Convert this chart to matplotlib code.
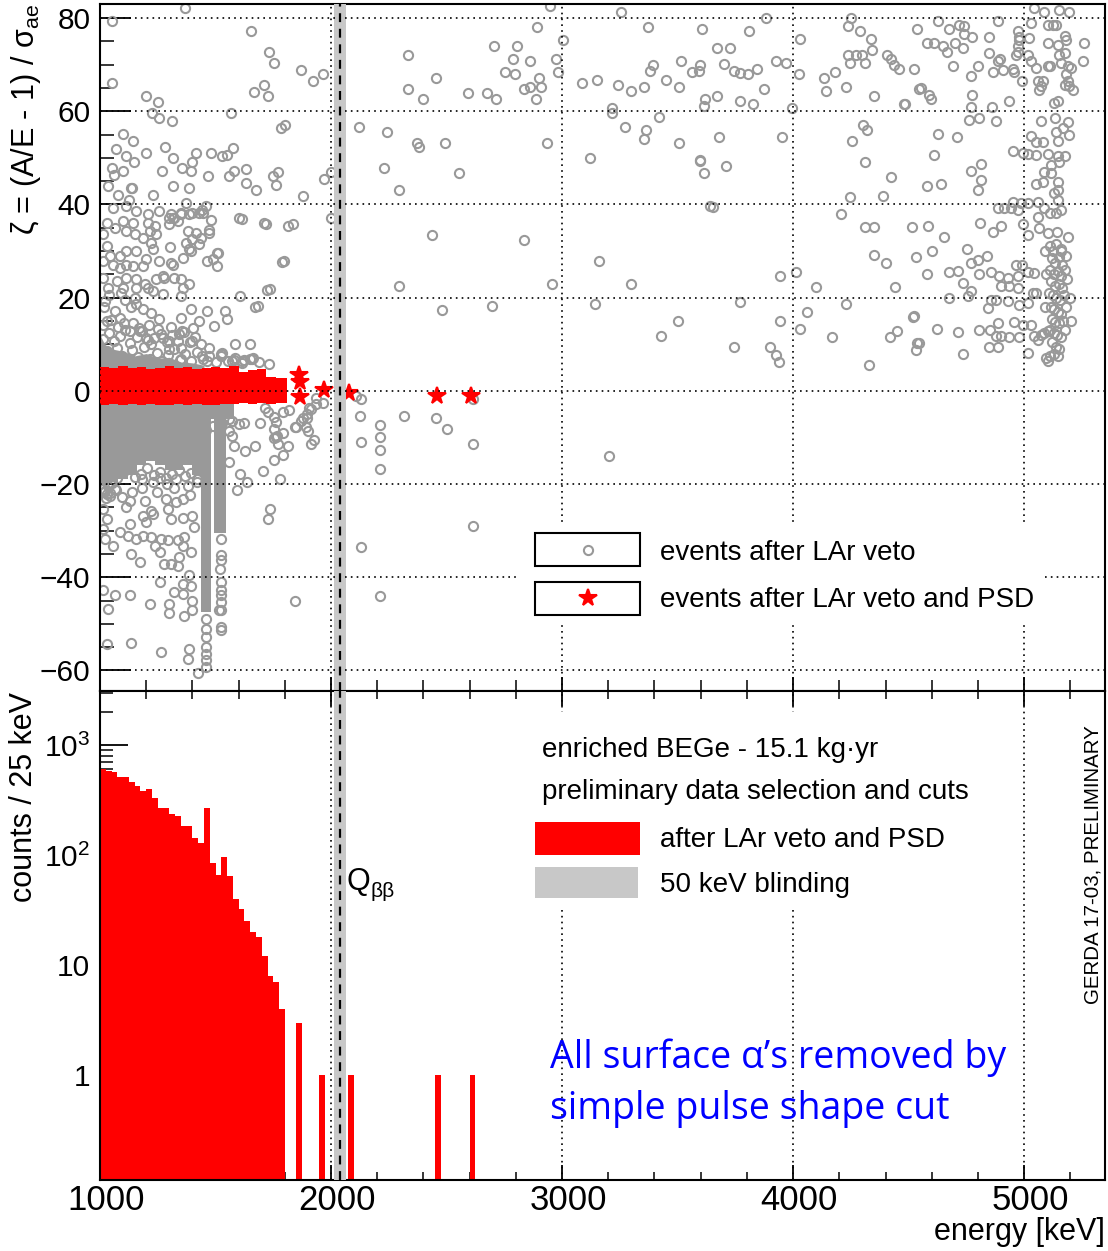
import numpy as np
import matplotlib
matplotlib.use("Agg")
import matplotlib.pyplot as plt
import matplotlib.transforms as mtransforms
from matplotlib.ticker import MultipleLocator, FixedLocator, FixedFormatter, LogLocator, NullFormatter
from matplotlib.patches import Rectangle

plt.rcParams['font.family'] = ['Liberation Sans', 'DejaVu Sans']
plt.rcParams['mathtext.fontset'] = 'custom'
plt.rcParams['mathtext.rm'] = 'Liberation Sans'
plt.rcParams['mathtext.it'] = 'Liberation Sans:italic'

# ---------------- data ----------------
# histogram: counts per 25 keV bin, starting at 1000 keV
hist_start = 1000
hist_width = 25
hist_counts = [600, 580, 570, 515, 515, 464, 424, 384, 396, 328, 266, 266, 236, 226, 185, 185,
               142, 129, 266, 85, 66, 95, 64, 40, 32, 25, 20, 18, 12, 8, 7, 4,
               0, 0, 3, 0, 0, 0, 1, 0, 0, 0, 0, 1, 0, 0, 0, 0, 0, 0, 0, 0, 0, 0, 0, 0, 0, 0,
               1, 0, 0, 0, 0, 0, 1]

# red events after LAr veto and PSD: dense band (envelope) + isolated events
band_e = [1000, 1040, 1080, 1120, 1160, 1200, 1240, 1280, 1320, 1360, 1400, 1440, 1480,
          1520, 1560, 1600, 1640, 1680, 1720, 1760, 1808]
band_top = [5.2, 4.8, 5.3, 4.9, 5.2, 4.7, 5.0, 5.3, 4.8, 5.1, 4.6, 4.9, 5.2, 4.8, 5.3,
            4.1, 4.5, 4.7, 3.0, 2.8, 2.8]
band_bot = [-3.0, -2.8, -3.1, -2.9, -3.0, -2.8, -3.0, -3.1, -2.9, -3.0, -2.8, -3.0, -3.1,
            -2.9, -2.8, -2.7, -2.9, -2.6, -2.8, -2.6, -2.6]
red_e = [1862, 1866, 1865, 1969, 2077, 2460, 2605]
red_z = [3.3, 1.9, -1.4, 0.2, -0.5, -1.1, -1.1]

# dense core of grey events (envelopes)
core_e = [1000, 1040, 1080, 1120, 1160, 1200, 1240, 1280, 1320, 1360, 1400, 1436, 1479,
          1493, 1545, 1580]
core_lo = [-20, -19.5, -19, -18, -16, -15, -16, -17, -17, -16, -18, -47.5, -6, -30.5, -6, -6]
up_e = [1000, 1020, 1050, 1100, 1150, 1200, 1250, 1300, 1350, 1400, 1450]
up_hi = [12, 10, 9, 8.5, 7.5, 8, 7, 7.2, 6.2, 6, 5.5]

# grey events after LAr veto (energy keV, zeta)
gray_e = [
 2948, 3256, 2893, 3370, 3606, 3006, 2705, 2803, 2333, 2786, 2861, 2974, 3515, 3393, 3379,
 3599, 3562, 3591, 2753, 2796, 2981, 2453, 2902, 3088, 3150, 3240, 3298, 3353, 3451, 3508,
 2333, 2398, 2594, 2673, 2714, 2835, 2861, 2909, 2886, 3620, 3613, 3215, 3215, 3421, 2121,
 2244, 2372, 2381, 2495, 2934, 3273, 3363, 3353, 3508, 3119, 3596, 3613, 2228, 2553, 2293,
 2439, 2837, 3161, 2293, 2958, 3298, 2479, 2698, 3143, 3500, 3428, 3642,
 2109, 2131, 2124, 2316, 2453, 2503, 2615, 2615, 2211, 2211, 2211, 2211, 2131, 3201, 2615,
 2131, 2211,
 3883, 3808, 3671, 3729, 3702, 3743, 3772, 3804, 3844, 3924, 3971, 3873, 3671, 3769, 3825,
 3996, 4029, 4025, 4249, 4238, 4290, 4336, 4343, 4238, 4271, 4300, 4246, 4310, 4408, 4423,
 4437, 4459, 4524, 4535, 4133, 4181, 4141, 4230, 4350, 4480, 4545, 4304, 4319, 4253, 4310,
 4423, 4391, 4246, 4206, 4310, 4350, 4514, 4350, 4401, 4531, 4440, 3678, 3953, 3598, 3711,
 3653, 4011, 3945, 4100, 3768, 3945, 4061, 4029, 4230, 4167, 3743, 3899, 3924, 3938, 4329,
 4521, 4418, 4451, 4538, 4531,
 5042, 5085, 5153, 5196, 5030, 4625, 4676, 4719, 4741, 4741, 4773, 4849, 4885, 4972, 4979,
 4979, 5023, 5102, 5124, 5138, 5102, 5146, 5182, 5175, 5258, 5254, 4579, 4611, 4647, 4668,
 4700, 4734, 4849, 4897, 4885, 4972, 4972, 4965, 5015, 5030, 5052, 5102, 5114, 5160, 5153,
 5175, 5189, 5203, 5182, 5189, 5196, 5211, 5175, 5059, 5073, 5081, 5066, 4989, 4958, 4950,
 4690, 4770, 4799, 4864, 4907, 4553, 4589, 4596, 4773, 4483, 4770, 4859, 4936, 5131, 5146,
 4762, 4806, 4878, 5073, 5134, 5189, 4625, 4709, 5030, 5052, 5081, 5146, 5196, 5138, 5167,
 4611, 4950, 4994, 5015, 5052, 5102, 5146, 5175, 5153, 5117, 4770, 4813, 4813, 4799, 4579,
 4642, 5088, 5117, 5081, 5052, 5146, 5146, 5131, 4885, 4914, 4943, 4972, 4950, 4986, 5015,
 5059, 5088, 5114, 5138, 5160, 5146, 5059, 4585, 4651, 4810, 4864, 4900, 4994, 5015, 5066,
 5102, 5143, 5189, 4603, 4752, 4770, 4799, 4839, 4676, 4715, 4579, 4734, 4770, 4806, 4856,
 4893, 4932, 4975, 4965, 4989, 5015, 5044, 4900, 4936, 4972, 5037, 5052, 4676, 4755, 4842,
 4929, 4979, 5015, 4878, 4856, 4524, 4622, 4715, 4806, 4853, 4885, 4849, 4885, 4878, 4900,
 4936, 4979, 4958, 4994, 5030, 4546, 4734, 5015, 5044, 5059, 5073, 5088, 5102, 5095, 5102,
 5110,
 5110, 5125, 5140, 5160, 5120, 5135, 5150, 5165, 5112, 5128, 5145, 5160, 5175, 5118, 5133,
 5150, 5165, 5108, 5125, 5140, 5155, 5172, 5115, 5130, 5145, 5160, 5120, 5135, 5150, 5168,
 5112, 5128, 5142, 5158, 5122, 5138, 5152, 5130, 5145, 5160, 5180, 5185, 5180, 5175, 5095,
 5092, 5090, 5200, 5203,
 1367, 1053, 1053, 1654, 1733, 1755, 1870, 1921, 1967, 1668, 1711, 1726, 1198, 1249, 1227,
 1256, 1311, 1567, 1784, 1802, 1100, 1143, 1068, 1198, 1280, 1314, 1354, 1400, 1415, 1480,
 1528, 1548, 1574, 1147, 1053, 1060, 1100, 1270, 1393, 1466, 1560, 1581, 1632, 1632, 1675,
 1748, 1770, 1762, 1971, 2000, 2000, 1878, 1834, 1798, 1736, 1682, 1603, 1711, 1487, 1512,
 1473, 1480, 1444, 1400, 1372, 1350, 1314, 1415, 1430, 1111, 1140, 1126,
 1036, 1079, 1136, 1229, 1315, 1386, 1057, 1114, 1157, 1207, 1257, 1307, 1322, 1350, 1386,
 1429, 1443, 1458, 1100, 1143, 1207, 1236, 1029, 1064, 1114, 1150, 1215, 1243, 1186, 1222,
 1300, 1300, 1336, 1379, 1372, 1400, 1393, 1436, 1472, 1615, 1718, 1815, 1303, 1358, 1386,
 1465, 1508, 1508, 1787, 1014, 1029, 1043, 1014, 1057, 1086, 1114, 1143, 1186, 1200, 1157,
 1114, 1086, 1229, 1257, 1279, 1307, 1315, 1322, 1350, 1386, 1358, 1272, 1243, 1114, 1157,
 1193, 1207, 1229, 1157, 1100, 1072, 1036, 1014, 1272, 1350, 1722, 1608, 1672, 1021, 1064,
 1086, 1029, 1136, 1157, 1186, 1222, 1257, 1143, 1129, 1172, 1200, 1222, 1272, 1300, 1350,
 1393, 1429, 1465, 1493, 1543, 1550, 1343, 1350, 1400, 1436, 1472, 1465, 1443, 1522, 1586,
 1650, 1572, 1615, 1658, 1350, 1300,
 1622, 1694, 1715, 1729, 1751, 1794, 1755, 1765, 1755, 1772, 1794, 1755, 1672, 1627, 1579,
 1558, 1558, 1558, 1572, 1704, 1608, 1636, 1594, 1779, 1737, 1729, 1844, 1872, 1898, 1901,
 1915, 1937, 1915, 1898, 1844,
 1014, 1029, 1140, 1129, 1114, 1193, 1222, 1186, 1200, 1229, 1286, 1329, 1358, 1293, 1307,
 1358, 1408, 1400, 1129, 1086, 1122, 1157, 1186, 1222, 1265, 1236, 1258, 1293, 1336, 1365,
 1358, 1393, 1136, 1172, 1279, 1307, 1336, 1343, 1057, 1021, 1029, 1014, 1014,
 1258, 1322, 1358, 1386, 1393, 1358, 1129, 1064, 1014, 1215, 1297, 1297, 1400, 1365, 1400,
 1036, 1136, 1265, 1386, 1379, 1029, 1426,
 1458, 1458, 1458, 1458, 1458, 1458, 1458,
 1522, 1522, 1522, 1518, 1522, 1522, 1522, 1522, 1516, 1524, 1522, 1522,
 1530, 1581, 1624, 1661, 1820, 1877, 1906, 1935, 1964, 1762, 1762, 1791, 1849, 1892, 1928,
 1812,
 1020, 1035, 1050, 1025, 1045, 1065, 1018, 1040, 1090, 1110, 1150, 1180, 1230, 1260, 1290,
 1330, 1380, 1420, 1460, 1490, 1530, 1570, 1600,
 1010, 1030, 1055, 1075, 1095, 1120, 1140, 1165, 1190, 1215, 1245, 1270, 1295, 1320, 1345,
 1370, 1395, 1420, 1445, 1470, 1500, 1525, 1555, 1585, 1615, 1650, 1690, 1730,
 1012, 1038, 1062, 1085, 1108, 1132, 1158, 1183, 1208, 1235, 1262, 1288, 1312, 1338, 1362,
 1388, 1412, 1015, 1048, 1078, 1105, 1168, 1212, 1250, 1308, 1355, 1402,
 1022, 1048, 1075, 1103, 1128, 1152, 1178, 1205, 1232, 1258, 1285, 1312, 1340, 1368, 1395,
 1422, 1016, 1042, 1068, 1095, 1180, 1248, 1320, 1390,
]
gray_z = [
 82.5, 81.2, 78.0, 78.0, 77.6, 75.2, 73.9, 74.0, 72.0, 71.2, 70.8, 71.2, 70.8, 70.0, 68.7,
 70.0, 68.4, 68.7, 68.4, 68.0, 68.4, 67.2, 67.2, 66.0, 66.7, 65.6, 64.4, 65.2, 66.7, 65.2,
 64.7, 62.7, 63.9, 63.9, 62.7, 64.7, 65.2, 65.2, 62.7, 62.7, 61.2, 60.7, 59.6, 58.7, 56.7,
 55.5, 53.1, 52.3, 53.1, 53.1, 56.7, 56.0, 54.0, 53.1, 49.9, 49.6, 46.7, 47.9, 46.7, 43.1,
 33.5, 32.3, 27.9, 22.6, 23.0, 23.0, 17.4, 18.3, 18.6, 15.0, 11.8, 39.6,
 -1.2, -1.8, -5.4, -5.4, -5.9, -8.2, -1.8, -11.4, -7.4, -10.0, -12.7, -16.7, -11.0, -14.0, -29.1,
 -33.5, -44.0,
 80.1, 77.1, 73.5, 73.5, 70.1, 68.7, 68.3, 68.0, 69.1, 70.8, 70.3, 64.7, 63.2, 62.1, 61.5,
 60.7, 75.5, 68.0, 80.1, 78.3, 77.1, 75.5, 73.2, 72.0, 72.0, 72.0, 70.3, 70.3, 72.0, 71.2,
 70.0, 69.1, 69.1, 77.6, 67.1, 68.4, 64.4, 65.1, 63.2, 61.5, 64.7, 57.1, 56.0, 53.5, 49.1,
 45.9, 41.9, 41.5, 37.9, 35.1, 35.1, 35.1, 29.1, 27.4, 28.7, 22.3, 54.4, 54.4, 49.4, 48.3,
 39.4, 25.5, 24.7, 22.3, 19.1, 15.0, 17.0, 13.3, 18.6, 11.5, 9.4, 9.4, 7.7, 6.2, 5.5,
 15.8, 11.5, 12.8, 10.3, 8.7,
 82.1, 81.2, 81.8, 81.2, 79.0, 79.3, 77.6, 78.4, 78.2, 76.6, 76.0, 76.0, 79.3, 77.1, 76.0,
 75.3, 75.7, 78.5, 78.5, 78.5, 74.6, 74.2, 75.3, 76.1, 74.7, 70.8, 74.6, 74.7, 73.9, 72.8,
 74.6, 73.5, 72.5, 71.2, 70.7, 73.9, 72.8, 72.1, 72.1, 70.7, 69.2, 69.8, 69.8, 70.3, 72.1,
 72.5, 69.6, 69.2, 68.0, 66.4, 65.3, 64.6, 65.7, 66.4, 65.3, 66.4, 64.6, 66.4, 68.5, 69.0,
 69.6, 67.5, 69.6, 68.5, 68.9, 64.9, 63.5, 62.6, 63.5, 61.6, 60.9, 60.9, 62.1, 61.7, 62.1,
 58.2, 58.5, 58.0, 58.0, 58.5, 57.6, 55.1, 54.4, 54.6, 53.3, 53.3, 53.5, 54.9, 55.6, 56.4,
 50.7, 51.5, 51.0, 50.9, 50.7, 50.9, 50.3, 50.4, 49.0, 48.5, 47.1, 48.7, 45.2, 43.0, 43.9,
 44.4, 46.9, 46.7, 44.9, 44.4, 44.9, 43.1, 42.4, 39.2, 39.2, 39.2, 38.9, 40.6, 40.3, 40.3,
 40.6, 39.2, 38.1, 38.1, 38.9, 41.0, 37.4, 35.4, 33.0, 36.0, 34.1, 35.4, 35.8, 33.5, 34.9,
 33.8, 34.1, 33.1, 29.9, 30.4, 27.4, 28.0, 29.0, 25.4, 25.8, 25.1, 23.1, 21.5, 25.1, 25.4,
 24.7, 24.2, 24.7, 27.0, 27.0, 25.6, 25.3, 22.6, 22.4, 22.0, 21.1, 21.0, 19.9, 20.3, 17.8,
 19.2, 18.5, 18.8, 19.5, 19.5, 16.0, 13.3, 12.6, 13.1, 13.1, 14.5, 9.5, 9.5, 11.7, 11.7,
 11.5, 11.5, 14.7, 14.2, 14.2, 10.3, 7.8, 8.1, 11.7, 11.0, 12.0, 12.4, 12.8, 7.1, 6.3,
 7.5,
 31.0, 30.0, 31.5, 30.5, 28.5, 27.5, 28.8, 27.0, 26.0, 25.0, 25.8, 24.6, 26.0, 23.5, 22.5,
 23.0, 22.0, 21.0, 20.5, 20.0, 19.5, 20.5, 18.0, 17.5, 17.0, 16.5, 15.5, 14.8, 14.5, 15.0,
 13.0, 12.5, 12.0, 11.5, 10.5, 9.5, 9.0, 8.0, 7.5, 30.0, 29.0, 24.0, 18.0, 13.0, 25.0,
 18.0, 30.0, 20.0, 15.0,
 82.1, 79.3, 66.0, 77.1, 72.8, 70.3, 68.9, 66.4, 68.0, 64.2, 65.7, 63.2, 63.2, 62.0, 59.6,
 58.5, 58.0, 59.6, 56.4, 57.1, 55.2, 53.5, 51.9, 51.0, 52.3, 49.9, 47.9, 49.0, 51.0, 51.0,
 50.3, 50.5, 52.1, 49.1, 47.9, 46.4, 47.1, 47.1, 47.1, 46.2, 46.2, 47.1, 47.5, 44.7, 43.0,
 46.0, 47.0, 44.2, 45.4, 46.9, 37.1, 41.9, 35.9, 27.8, 21.8, 18.1, 37.1, 36.1, 28.3, 29.6,
 34.6, 36.7, 38.1, 38.1, 40.3, 38.1, 37.0, 33.9, 31.4, 50.3, 43.5, 41.0,
 43.9, 42.1, 43.6, 42.1, 43.9, 43.6, 39.3, 39.6, 38.6, 37.9, 38.6, 37.9, 37.1, 37.9, 37.9,
 38.2, 38.9, 39.6, 36.4, 36.1, 36.1, 35.4, 36.1, 35.0, 34.3, 33.6, 34.3, 33.6, 32.9, 31.8,
 37.1, 35.7, 36.4, 34.3, 31.8, 32.5, 30.0, 32.9, 33.9, 36.8, 35.9, 35.4, 30.9, 28.6, 30.4,
 27.9, 29.6, 26.8, 27.6, 33.6, 31.1, 28.9, 27.9, 27.1, 26.4, 27.1, 26.8, 26.8, 28.2, 30.0,
 30.0, 28.9, 30.4, 27.9, 24.3, 27.5, 27.1, 24.3, 23.9, 22.9, 22.1, 24.6, 23.9, 24.3, 23.9,
 22.9, 22.1, 21.4, 22.1, 22.1, 23.6, 22.1, 24.3, 20.7, 20.4, 21.6, 20.4, 17.9, 19.3, 17.1,
 15.7, 15.0, 17.9, 18.6, 17.5, 16.8, 15.4, 14.6, 12.9, 12.9, 11.4, 10.0, 11.4, 10.7, 15.7,
 17.5, 15.0, 17.1, 13.9, 17.1, 15.4, 12.1, 9.3, 10.7, 10.0, 9.3, 6.4, 7.5, 7.5, 10.0,
 10.0, 6.4, 6.4, 6.8, 6.8, 9.0,
 -6.8, -6.9, -3.6, -4.5, -5.7, -4.5, -8.2, -9.6, -10.2, -11.4, -13.8, -14.8, -11.9, -12.8, -11.8,
 -8.6, -6.1, -15.3, -9.6, -17.1, -17.8, -19.6, -21.2, -18.9, -25.3, -27.5, -7.8, -6.4, -5.9, -8.6,
 -11.3, -2.9, -3.9, -5.0, -45.0,
 -21.0, -22.1, -21.8, -23.6, -25.0, -23.6, -25.7, -26.8, -28.2, -26.4, -23.2, -23.9, -23.2, -25.3, -27.5,
 -27.3, -29.3, -26.8, -28.6, -30.3, -31.1, -31.8, -31.1, -31.4, -31.8, -33.2, -34.6, -32.1, -32.1, -31.4,
 -33.2, -34.5, -35.0, -36.8, -37.1, -37.1, -37.5, -35.7, -33.2, -31.8, -27.5, -25.3, -29.6,
 -41.1, -43.2, -41.4, -39.6, -41.8, -43.6, -43.9, -43.9, -42.8, -45.7, -45.7, -47.7, -45.0, -48.4, -47.1,
 -46.8, -54.1, -56.0, -55.3, -57.6, -54.4, -60.5,
 -48.9, -51.0, -52.8, -55.0, -56.4, -57.8, -59.3,
 -31.8, -35.3, -36.4, -38.2, -41.1, -42.8, -43.9, -45.3, -47.1, -47.1, -50.7, -51.4,
 8.1, 6.6, 6.6, 7.0, -4.1, -5.9, -3.7, -1.6, -2.6, -6.6, -9.8, -9.1, -7.7, -7.7, -10.5,
 -11.9,
 -21.5, -20.5, -19.8, -23.0, -22.0, -21.0, 18.0, 20.5, 21.0, 19.5, 20.0, -19.0, -19.5, -18.8, -20.0,
 -19.0, -20.5, -19.6, -8.5, -7.5, -6.8, -6.5, -7.2,
 7.0, 8.5, 6.8, 9.2, 7.5, 6.5, 8.8, 7.2, 9.5, 6.9, 8.1, 6.4, 7.6, 8.9, 6.6,
 7.8, 6.3, 8.4, 6.9, 7.4, 6.2, 8.0, 6.5, 7.1, 5.9, 6.8, 6.2, 5.8,
 11.2, 12.4, 10.6, 11.8, 13.1, 10.2, 11.5, 12.8, 10.9, 11.3, 12.1, 10.5, 11.9, 10.8, 12.6,
 10.4, 11.6, 14.2, 15.3, 13.8, 14.6, 13.5, 14.1, 13.2, 13.7, 12.9, 13.4,
 -18.2, -17.5, -18.8, -17.2, -16.8, -18.5, -17.9, -16.5, -18.1, -17.4, -18.6, -17.8, -16.9, -18.3, -17.6,
 -18.9, -21.8, -22.5, -21.2, -22.8, -20.8, -21.6, -20.9, -22.3,
]

Q_BB = 2039
blind_lo, blind_hi = 2014, 2064

# ---------------- figure ----------------
W, H = 1108, 1251
fig = plt.figure(figsize=(W / 100, H / 100), dpi=100)

def fx(px):
    return px / W

def fy(py):
    return 1 - py / H

ax1 = fig.add_axes([fx(100), fy(691), fx(1105) - fx(100), fy(4) - fy(691)])
ax2 = fig.add_axes([fx(100), fy(1180), fx(1105) - fx(100), fy(691) - fy(1180)])

GRAY = '#999999'
dot = (0, (1, 2.5))
CMS = 6.6
CMEW = 1.5

# ---- top panel ----
ax1.set_xlim(1000, 5350)
ax1.set_ylim(-64.4, 83.0)
ax1.fill_between(core_e, core_lo, 0, step='post', color=GRAY, lw=0, zorder=2)
ax1.fill_between(up_e, 0, up_hi, color=GRAY, lw=0, zorder=2)
ax1.plot(gray_e, gray_z, 'o', mfc='none', mec=GRAY, ms=CMS, mew=CMEW, zorder=2.2)
ax1.fill_between(band_e, band_bot, band_top, step='post', color='red', lw=0, zorder=3)
ax1.plot(red_e, red_z, '*', color='red', ms=13, mec='red', mew=1.5, zorder=3)
ax1.axvspan(blind_lo, blind_hi, color='#c8c8c8', lw=0, zorder=3.5)
for yv in range(-60, 81, 20):
    ax1.axhline(yv, color='black', lw=1.2, ls=dot, zorder=4)
for xv in range(1000, 5001, 1000):
    ax1.axvline(xv, color='black', lw=1.2, ls=dot, zorder=4)
ax1.axvline(Q_BB, color='black', lw=1.6, ls=(0, (4, 3)), zorder=4.5)

ax1.yaxis.set_major_locator(MultipleLocator(20))
ax1.yaxis.set_minor_locator(MultipleLocator(5))
ax1.xaxis.set_major_locator(MultipleLocator(1000))
ax1.xaxis.set_minor_locator(MultipleLocator(200))
ax1.tick_params(axis='y', which='major', direction='in', length=22, width=1.3, labelsize=21.5, pad=7)
ax1.tick_params(axis='y', which='minor', direction='in', length=10, width=1.1)
ax1.tick_params(axis='x', which='major', direction='in', length=10, width=1.3, labelbottom=False)
ax1.tick_params(axis='x', which='minor', direction='in', length=8, width=1.1)
for s in ax1.spines.values():
    s.set_linewidth(1.5)

# top legend
ax1.add_patch(Rectangle((fx(520), fy(622)), fx(1045) - fx(520), fy(522) - fy(622),
                        transform=fig.transFigure, facecolor='white', edgecolor='none', zorder=6))
for (y0, y1) in [(533, 566), (582, 615)]:
    ax1.add_patch(Rectangle((fx(535), fy(y1)), fx(640) - fx(535), fy(y0) - fy(y1),
                            transform=fig.transFigure, facecolor='none', edgecolor='black',
                            lw=1.5, zorder=7))
ax1.plot([fx(588)], [fy(550)], 'o', mfc='none', mec=GRAY, ms=CMS, mew=CMEW,
         transform=fig.transFigure, zorder=8, clip_on=False)
ax1.plot([fx(588)], [fy(598)], '*', color='red', ms=13, mec='red', mew=1.5,
         transform=fig.transFigure, zorder=8, clip_on=False)
fig.text(fx(660), fy(560), 'events after LAr veto', fontsize=20, va='baseline', zorder=9)
fig.text(fx(660), fy(607), 'events after LAr veto and PSD', fontsize=20, va='baseline', zorder=9)

# ---- bottom panel ----
ax2.set_xlim(1000, 5350)
ax2.set_yscale('log')
ax2.set_ylim(0.111, 3100)
edges = hist_start + hist_width * np.arange(len(hist_counts) + 1)
ax2.stairs(hist_counts, edges, baseline=1e-3, fill=True, color='red', lw=0, zorder=2)
ax2.axvspan(blind_lo, blind_hi, color='#c8c8c8', lw=0, zorder=3)
for xv in range(1000, 5001, 1000):
    ax2.axvline(xv, color='black', lw=1.2, ls=dot, zorder=1)
ax2.axvline(Q_BB, color='black', lw=1.6, ls=(0, (4, 3)), zorder=4.5)

ax2.yaxis.set_major_locator(FixedLocator([1, 10, 100, 1000]))
ax2.yaxis.set_major_formatter(FixedFormatter(['1', '10', r'$10^{2}$', r'$10^{3}$']))
ax2.yaxis.set_minor_locator(LogLocator(base=10, subs=np.arange(2, 10), numticks=20))
ax2.yaxis.set_minor_formatter(NullFormatter())
ax2.xaxis.set_major_locator(MultipleLocator(1000))
ax2.xaxis.set_minor_locator(MultipleLocator(200))
ax2.tick_params(axis='y', which='major', direction='in', length=20, width=1.3, labelsize=21.5, pad=7)
ax2.tick_params(axis='y', which='minor', direction='in', length=9.5, width=1.1)
ax2.tick_params(axis='x', which='major', direction='in', length=11, width=1.3, labelsize=25,
                pad=3, top=True)
ax2.tick_params(axis='x', which='minor', direction='in', length=6, width=1.1, top=True)
for s in ax2.spines.values():
    s.set_linewidth(1.5)
# shift x tick labels slightly to the right, as in the reference
shift = mtransforms.ScaledTranslation(6 / 100, 0, fig.dpi_scale_trans)
for lab in ax2.get_xticklabels():
    lab.set_transform(lab.get_transform() + shift)

# bottom legend
ax2.add_patch(Rectangle((fx(520), fy(908)), fx(1012) - fx(520), fy(712) - fy(908),
                        transform=fig.transFigure, facecolor='white', edgecolor='none', zorder=6))
fig.text(fx(542), fy(757), 'enriched BEGe - 15.1 kg·yr', fontsize=20, va='baseline', zorder=9)
fig.text(fx(542), fy(799), 'preliminary data selection and cuts', fontsize=20, va='baseline', zorder=9)
ax2.add_patch(Rectangle((fx(535), fy(855)), fx(640) - fx(535), fy(822) - fy(855),
                        transform=fig.transFigure, facecolor='red', edgecolor='none', zorder=7))
ax2.add_patch(Rectangle((fx(535), fy(898)), fx(638) - fx(535), fy(867) - fy(898),
                        transform=fig.transFigure, facecolor='#c8c8c8', edgecolor='none', zorder=7))
fig.text(fx(660), fy(847), 'after LAr veto and PSD', fontsize=20, va='baseline', zorder=9)
fig.text(fx(660), fy(892), '50 keV blinding', fontsize=20, va='baseline', zorder=9)

# Q_bb label
fig.text(fx(347), fy(890), 'Q', fontsize=22, va='baseline', zorder=9)
fig.text(fx(371), fy(897), 'ββ', fontsize=15, va='baseline', zorder=9)

# rotated stamp
fig.text(fx(1093), fy(865), 'GERDA 17-03, PRELIMINARY', fontsize=14.8, rotation=90,
         ha='center', va='center')

# axis titles
fig.text(fx(26), fy(4), r'ζ = (A/E - 1) / σ$_{\mathregular{ae}}$', fontsize=22, rotation=90,
         ha='center', va='top')
fig.text(fx(24), fy(692), 'counts / 25 keV', fontsize=22, rotation=90, ha='center', va='top')
fig.text(fx(1105), fy(1240), 'energy [keV]', fontsize=22, ha='right', va='baseline')

# blue annotation
fig.text(fx(550), fy(1068), 'All surface α’s removed by', fontsize=27, color='#0000ff',
         family=['Open Sans', 'DejaVu Sans'], va='baseline')
fig.text(fx(550), fy(1119), 'simple pulse shape cut', fontsize=27, color='#0000ff',
         family=['Open Sans', 'DejaVu Sans'], va='baseline')

fig.savefig('out.png', dpi=100)
